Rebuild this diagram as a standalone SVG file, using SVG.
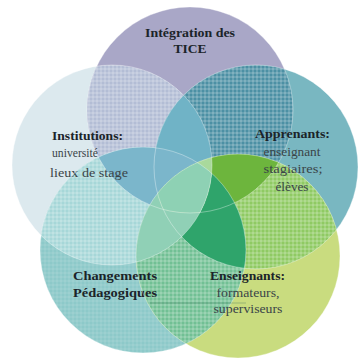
<svg xmlns="http://www.w3.org/2000/svg" xmlns:xlink="http://www.w3.org/1999/xlink" width="359" height="358" viewBox="0 0 359 358">
  <style>
    .t { font-family: "Liberation Serif", "Times New Roman", serif; font-size: 12.5px; fill: #3a4448; }
    .b { font-weight: bold; fill: #1b2429; }
    .ring { fill: none; stroke: #ffffff; stroke-opacity: 0.35; stroke-width: 1; }
  </style>
  <defs>
    <!-- small plaid texture used on the petal overlaps -->
    <pattern id="plaid" width="4" height="4" patternUnits="userSpaceOnUse">
      <rect x="0" y="0" width="4" height="2" fill="#ffffff" fill-opacity="0.16"/>
      <rect x="0" y="0" width="2" height="4" fill="#ffffff" fill-opacity="0.16"/>
    </pattern>
    <pattern id="plaidFaint" width="4" height="4" patternUnits="userSpaceOnUse">
      <rect x="0" y="0" width="4" height="2" fill="#ffffff" fill-opacity="0.07"/>
      <rect x="0" y="0" width="2" height="4" fill="#ffffff" fill-opacity="0.07"/>
    </pattern>
    <clipPath id="kA"><circle cx="190" cy="110" r="103"/></clipPath>
    <clipPath id="kB"><circle cx="112" cy="165" r="100"/></clipPath>
    <clipPath id="kC"><circle cx="256" cy="167" r="102"/></clipPath>
    <clipPath id="kD"><circle cx="143" cy="250" r="103"/></clipPath>
    <clipPath id="kE"><circle cx="238" cy="256" r="102"/></clipPath>
  </defs>

  <rect width="359" height="358" fill="#ffffff"/>

  <!-- filled areas of the five circles and their overlaps -->
  <g id="regions">
    <circle cx="112" cy="165" r="100" fill="#dce9ee"/>
    <circle cx="190" cy="110" r="103" fill="#a9a7c7"/>
    <circle cx="256" cy="167" r="102" fill="#79b7c1"/>
    <circle cx="143" cy="250" r="103" fill="#8dc9c9"/>
    <circle cx="143" cy="250" r="103" fill="url(#plaidFaint)"/>
    <circle cx="238" cy="256" r="102" fill="#c9dc7f"/>

    <!-- neighbouring pairs -->
    <g clip-path="url(#kB)"><circle cx="190" cy="110" r="103" fill="#b3bdd5"/><circle cx="190" cy="110" r="103" fill="url(#plaid)"/></g>
    <g clip-path="url(#kC)"><circle cx="190" cy="110" r="103" fill="#4c90a4"/><circle cx="190" cy="110" r="103" fill="url(#plaid)"/></g>
    <g clip-path="url(#kD)"><circle cx="112" cy="165" r="100" fill="#a6d7d8"/><circle cx="112" cy="165" r="100" fill="url(#plaid)"/></g>
    <g clip-path="url(#kE)"><circle cx="256" cy="167" r="102" fill="#8fca63"/><circle cx="256" cy="167" r="102" fill="url(#plaid)"/></g>
    <g clip-path="url(#kE)"><circle cx="143" cy="250" r="103" fill="#71c094"/><circle cx="143" cy="250" r="103" fill="url(#plaid)"/></g>

    <!-- central overlaps -->
    <g clip-path="url(#kB)"><g clip-path="url(#kC)"><circle cx="190" cy="110" r="103" fill="#70b3c6"/></g></g>
    <g clip-path="url(#kB)"><g clip-path="url(#kD)"><circle cx="190" cy="110" r="103" fill="#7bb6cb"/></g></g>
    <g clip-path="url(#kC)"><g clip-path="url(#kE)"><circle cx="190" cy="110" r="103" fill="#6db53d"/></g></g>
    <g clip-path="url(#kD)"><g clip-path="url(#kE)"><circle cx="256" cy="167" r="102" fill="#2fa46b"/></g></g>
    <g clip-path="url(#kD)"><g clip-path="url(#kE)"><circle cx="112" cy="165" r="100" fill="#90d0b6"/></g></g>
    <g clip-path="url(#kB)"><g clip-path="url(#kC)"><g clip-path="url(#kE)"><circle cx="190" cy="110" r="103" fill="#a9d99c"/></g></g></g>
    <g clip-path="url(#kB)"><g clip-path="url(#kC)"><g clip-path="url(#kD)"><g clip-path="url(#kE)"><circle cx="190" cy="110" r="103" fill="#8ed1b4"/></g></g></g></g>

    <line x1="150" y1="303" x2="246" y2="303" stroke="#3d6a5a" stroke-opacity="0.35" stroke-width="1"/>
  </g>

  <g id="node-tice">
    <circle class="ring" cx="190" cy="110" r="103"/>
    <text class="t b" x="190" y="37" text-anchor="middle" textLength="90" lengthAdjust="spacingAndGlyphs">Intégration des</text>
    <text class="t b" x="190" y="53" text-anchor="middle" textLength="33" lengthAdjust="spacingAndGlyphs">TICE</text>
  </g>

  <g id="node-institutions">
    <circle class="ring" cx="112" cy="165" r="100"/>
    <text class="t b" x="52" y="140" textLength="71" lengthAdjust="spacingAndGlyphs">Institutions:</text>
    <text class="t" x="52" y="157" textLength="46" lengthAdjust="spacingAndGlyphs">université</text>
    <text class="t" x="50" y="177" textLength="78" lengthAdjust="spacingAndGlyphs">lieux de stage</text>
  </g>

  <g id="node-apprenants">
    <circle class="ring" cx="256" cy="167" r="102"/>
    <text class="t b" x="255" y="138" textLength="75" lengthAdjust="spacingAndGlyphs">Apprenants:</text>
    <text class="t" x="292" y="156" text-anchor="middle" textLength="57" lengthAdjust="spacingAndGlyphs">enseignant</text>
    <text class="t" x="293" y="173" text-anchor="middle" textLength="59" lengthAdjust="spacingAndGlyphs">stagiaires;</text>
    <text class="t" x="292" y="191" text-anchor="middle" textLength="33" lengthAdjust="spacingAndGlyphs">élèves</text>
  </g>

  <g id="node-changements">
    <circle class="ring" cx="143" cy="250" r="103"/>
    <text class="t b" x="73" y="280" textLength="84" lengthAdjust="spacingAndGlyphs">Changements</text>
    <text class="t b" x="73" y="297" textLength="84" lengthAdjust="spacingAndGlyphs">Pédagogiques</text>
  </g>

  <g id="node-enseignants">
    <circle class="ring" cx="238" cy="256" r="102"/>
    <text class="t b" x="210" y="280" textLength="75" lengthAdjust="spacingAndGlyphs">Enseignants:</text>
    <text class="t" x="248" y="297" text-anchor="middle" textLength="63" lengthAdjust="spacingAndGlyphs">formateurs,</text>
    <text class="t" x="248" y="313" text-anchor="middle" textLength="69" lengthAdjust="spacingAndGlyphs">superviseurs</text>
  </g>
</svg>
